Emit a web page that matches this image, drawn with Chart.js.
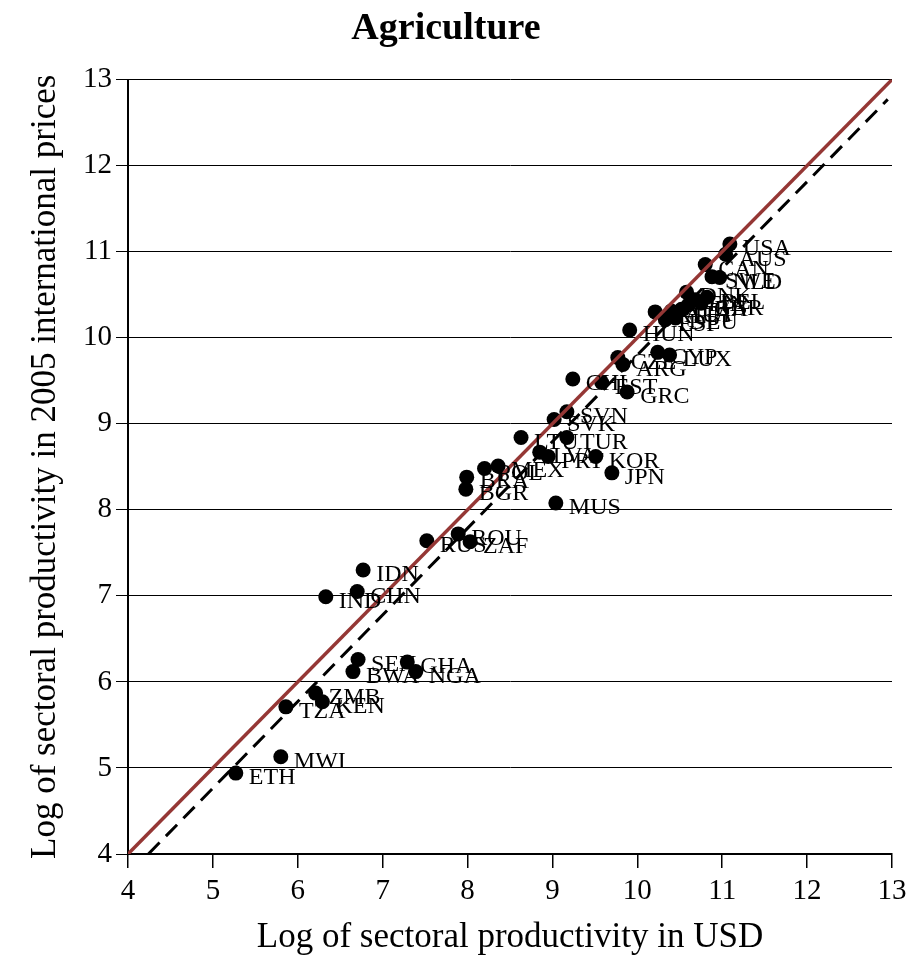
<!DOCTYPE html>
<html>
<head>
<meta charset="utf-8">
<script src="https://cdn.jsdelivr.net/npm/chart.js@4/dist/chart.umd.min.js"></script>
<style>
    html, body { margin: 0; padding: 0; background: #fff; }
    #agri-chart { display: block; }
</style>
</head>
<body>
<canvas id="agri-chart" width="922" height="955"></canvas>
<script>
// start: Data
const countries = ['USA', 'AUS', 'CAN', 'SWE', 'NLD', 'DNK', 'FIN', 'BEL', 'GBR', 'FRA',
    'ITA', 'AUT', 'IRL', 'DEU', 'ESP', 'HUN', 'CZE', 'ARG', 'CYP', 'LUX',
    'CHL', 'EST', 'GRC', 'SVN', 'SVK', 'LTU', 'TUR', 'LVA', 'PRT', 'KOR',
    'JPN', 'MUS', 'MEX', 'POL', 'BRA', 'BGR', 'ROU', 'ZAF', 'RUS', 'IDN',
    'CHN', 'IND', 'SEN', 'BWA', 'GHA', 'NGA', 'ZMB', 'KEN', 'TZA', 'MWI', 'ETH']
const prodUSD = [11.09, 11.04, 10.80, 10.88, 10.97, 10.58, 10.68, 10.82, 10.75, 10.60,
    10.52, 10.40, 10.21, 10.45, 10.33, 9.91, 9.77, 9.83, 10.24, 10.38,
    9.24, 9.58, 9.88, 9.17, 9.02, 8.63, 9.17, 8.85, 8.95, 9.51,
    9.70, 9.04, 8.36, 8.20, 7.99, 7.98, 7.89, 8.03, 7.52, 6.77,
    6.70, 6.33, 6.71, 6.65, 7.29, 7.39, 6.21, 6.29, 5.86, 5.80, 5.27]
const prodIntl = [11.09, 10.97, 10.85, 10.71, 10.70, 10.53, 10.44, 10.47, 10.40, 10.38,
    10.33, 10.31, 10.30, 10.23, 10.21, 10.09, 9.77, 9.69, 9.83, 9.80,
    9.52, 9.48, 9.37, 9.14, 9.05, 8.84, 8.84, 8.67, 8.62, 8.62,
    8.43, 8.08, 8.51, 8.48, 8.38, 8.24, 7.72, 7.63, 7.64, 7.30,
    7.05, 6.99, 6.26, 6.12, 6.23, 6.12, 5.87, 5.77, 5.71, 5.13, 4.94]

// 45 degree line and fitted line
const diagX = [4, 13]
const diagY = [4, 13]
const fitX = [4.24, 12.95]
const fitY = [4.0, 12.77]

const axisTicks = [4, 5, 6, 7, 8, 9, 10, 11, 12, 13]
// end: Data

const serif = '"Liberation Serif", "Times New Roman", serif'
const darkRed = 'rgb(149, 55, 53)'

function toPoints(xs, ys) {
    return xs.map(function (x, i) { return { x: x, y: ys[i] } })
}

// country codes next to each dot
const codeLabels = {
    id: 'codeLabels',
    afterDatasetsDraw(chart) {
        const ctx = chart.ctx
        const meta = chart.getDatasetMeta(2)
        ctx.save()
        ctx.font = '24px ' + serif
        ctx.fillStyle = '#000'
        ctx.textAlign = 'left'
        ctx.textBaseline = 'middle'
        meta.data.forEach(function (pt, i) {
            ctx.fillText(countries[i], pt.x + 13, pt.y + 5)
        })
        ctx.restore()
    }
}

new Chart(document.getElementById('agri-chart'), {
    type: 'scatter',
    data: {
        datasets: [
            {
                label: '45 degree',
                data: toPoints(diagX, diagY),
                showLine: true,
                borderColor: darkRed,
                borderWidth: 3.5,
                pointRadius: 0,
                fill: false
            },
            {
                label: 'Fit',
                data: toPoints(fitX, fitY),
                showLine: true,
                borderColor: '#000',
                borderWidth: 3,
                borderDash: [16, 9],
                pointRadius: 0,
                fill: false
            },
            {
                label: 'Countries',
                data: toPoints(prodUSD, prodIntl),
                pointRadius: 7.5,
                pointBackgroundColor: '#000',
                pointBorderColor: '#000',
                pointBorderWidth: 0
            }
        ]
    },
    options: {
        responsive: false,
        animation: false,
        devicePixelRatio: 1,
        layout: { padding: { left: 0, right: 30, top: 0, bottom: 0 } },
        plugins: {
            legend: { display: false },
            tooltip: { enabled: false },
            title: {
                display: true,
                text: 'Agriculture',
                color: '#000',
                font: { family: serif, size: 38, weight: 'bold' },
                padding: { top: 6, bottom: 28 }
            }
        },
        scales: {
            x: {
                type: 'linear',
                min: 4,
                max: 13,
                afterBuildTicks: function (axis) {
                    axis.ticks = axisTicks.map(function (v) { return { value: v } })
                },
                afterFit: function (axis) { axis.height = 101 },
                grid: {
                    drawOnChartArea: false,
                    drawTicks: true,
                    tickLength: 14,
                    color: '#000',
                    lineWidth: 1.5
                },
                border: { color: '#000', width: 2 },
                ticks: {
                    color: '#000',
                    font: { family: serif, size: 29 },
                    padding: 6
                },
                title: {
                    display: true,
                    text: 'Log of sectoral productivity in USD',
                    color: '#000',
                    font: { family: serif, size: 35 },
                    padding: { top: 0, bottom: -4 }
                }
            },
            y: {
                type: 'linear',
                min: 4,
                max: 13,
                afterBuildTicks: function (axis) {
                    axis.ticks = axisTicks.map(function (v) { return { value: v } })
                },
                afterFit: function (axis) { axis.width = 128 },
                grid: {
                    drawOnChartArea: true,
                    drawTicks: true,
                    tickLength: 12,
                    color: '#000',
                    lineWidth: 1
                },
                border: { color: '#000', width: 2 },
                ticks: {
                    color: '#000',
                    font: { family: serif, size: 29 },
                    padding: 4
                },
                title: {
                    display: true,
                    text: 'Log of sectoral productivity in 2005 international prices',
                    color: '#000',
                    font: { family: serif, size: 35 },
                    padding: { top: 25, bottom: 0 }
                }
            }
        }
    },
    plugins: [codeLabels]
});
</script>
</body>
</html>
